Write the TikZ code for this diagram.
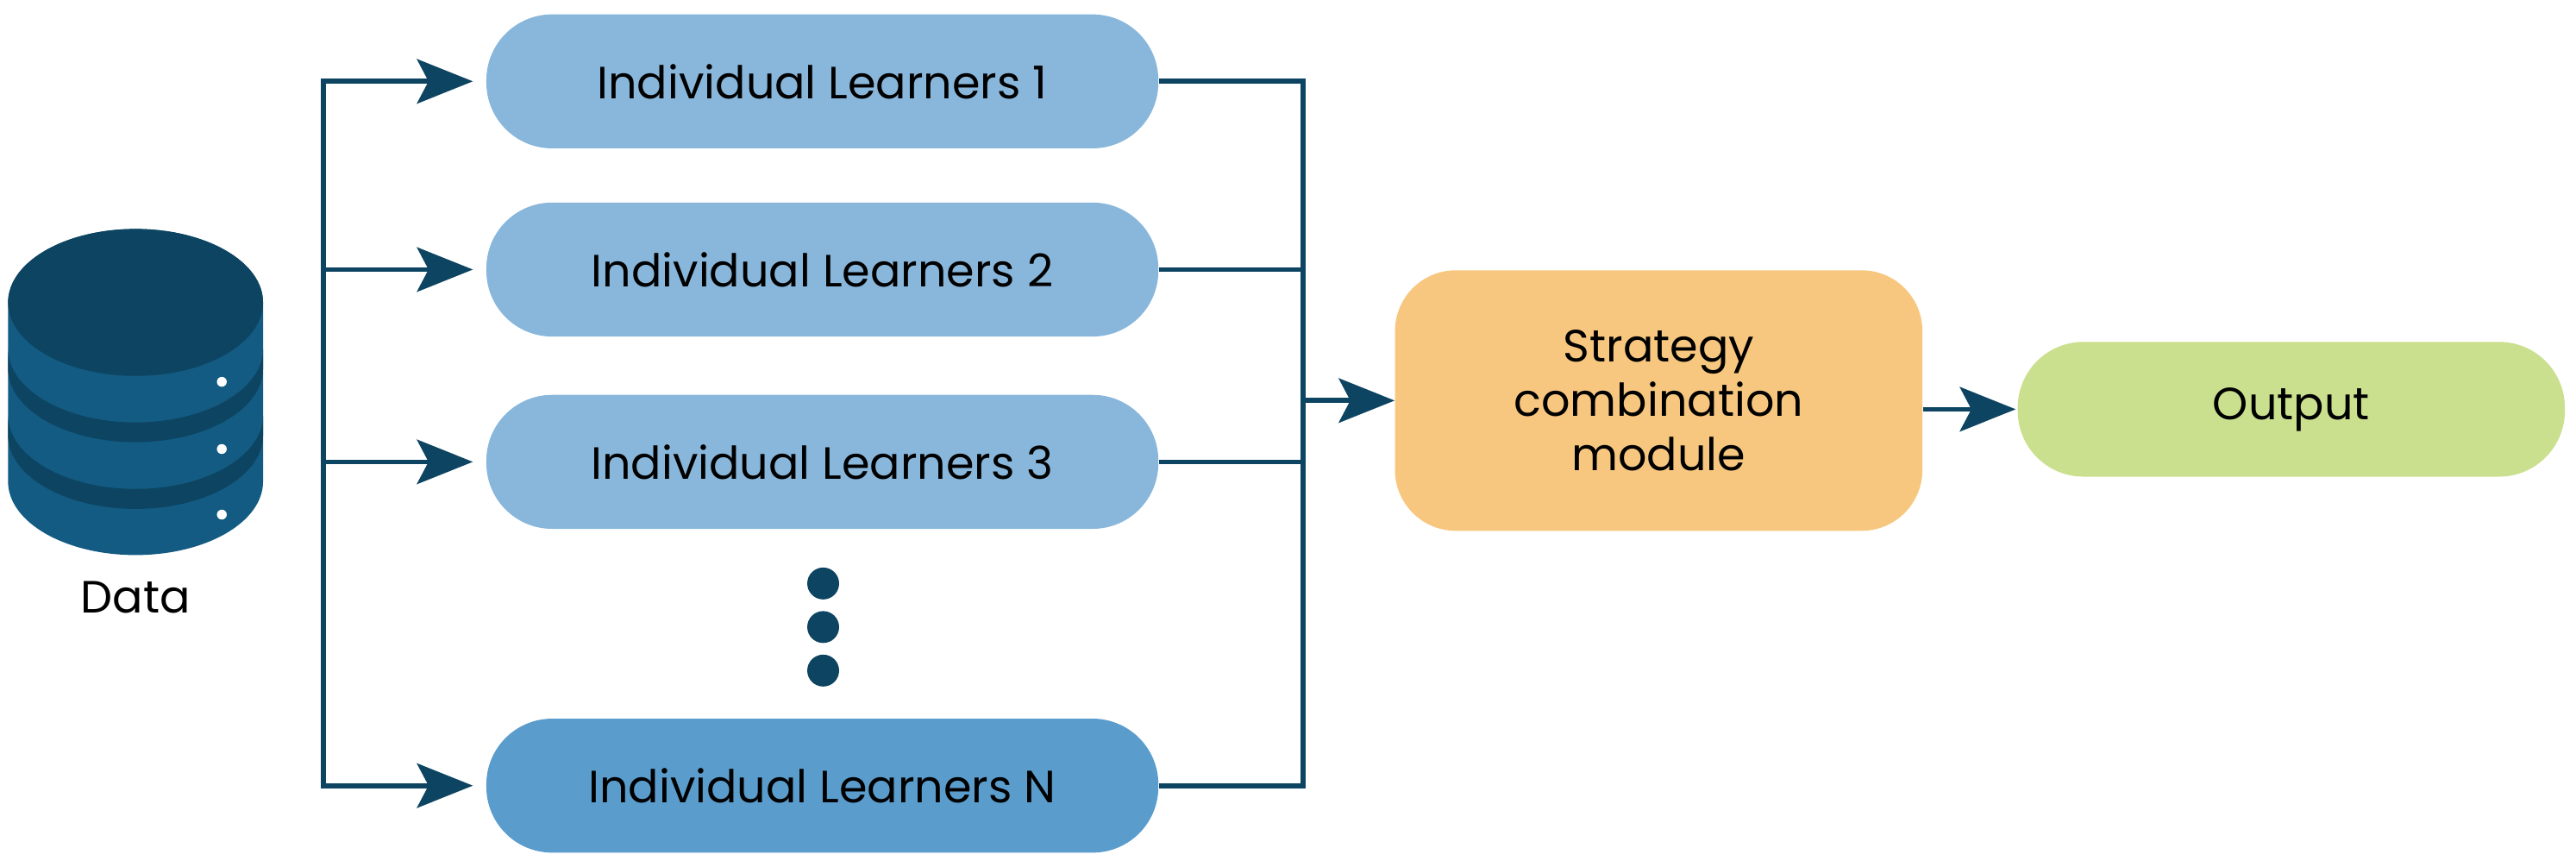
\documentclass[tikz,border=0pt]{standalone}
\usepackage{fontspec}
\setmainfont{Poppins}
\usetikzlibrary{arrows.meta}
\definecolor{dark}{HTML}{0D4461}
\definecolor{cylbody}{HTML}{135B82}
\definecolor{lblue}{HTML}{89B7DB}
\definecolor{mblue}{HTML}{5A9CCC}
\definecolor{orangebox}{HTML}{F8C77F}
\definecolor{greenbox}{HTML}{CAE08E}
\begin{document}
\begin{tikzpicture}[x=1pt,y=1pt,
  txt/.style={font=\fontsize{27.5}{33}\selectfont, text=black},
  learner/.style={txt, fill=lblue, minimum width=409pt, minimum height=81.5pt, rounded corners=40pt, inner sep=0pt},
  dotnode/.style={circle, fill=dark, minimum size=19.4pt, inner sep=0pt},
  wire/.style={draw=dark, line width=3pt},
  arr/.style={wire, -{Stealth[length=34pt,width=27pt,inset=7pt]}}]
\useasboundingbox (0,0) rectangle (1567.8,-527);
% database cylinder
\fill[cylbody] (4.9,-184) -- (4.9,-293) arc[start angle=180, end angle=360, x radius=77.6, y radius=44.7] -- (160.1,-184) arc[start angle=0, end angle=180, x radius=77.6, y radius=44.7] -- cycle;
\fill[dark] (4.9,-212.3) arc[start angle=180, end angle=360, x radius=77.6, y radius=44.7] -- (160.1,-224.3) arc[start angle=0, end angle=-180, x radius=77.6, y radius=44.7] -- cycle;
\fill[dark] (4.9,-252.8) arc[start angle=180, end angle=360, x radius=77.6, y radius=44.7] -- (160.1,-264.9) arc[start angle=0, end angle=-180, x radius=77.6, y radius=44.7] -- cycle;
\fill[dark] (82.5,-184) ellipse[x radius=77.6, y radius=44.7];
\fill[white] (135,-232.3) circle (3);
\fill[white] (135,-273.2) circle (3);
\fill[white] (135,-313.1) circle (3);
\node[txt, anchor=base, inner sep=0pt] (datalbl) at (82.5,-373) {Data};
% learners
\node[learner] (L1) at (500.5,-49.5) {Individual Learners 1};
\node[learner] (L2) at (500.5,-164) {Individual Learners 2};
\node[learner] (L3) at (500.5,-281) {Individual Learners 3};
\node[learner, fill=mblue] (LN) at (500.5,-478) {Individual Learners N};
\node[dotnode] (d1) at (501,-355) {};
\node[dotnode] (d2) at (501,-381.5) {};
\node[dotnode] (d3) at (501,-408) {};
% strategy and output
\node[txt, fill=orangebox, minimum width=321pt, minimum height=158.5pt, rounded corners=37pt, align=center, inner sep=0pt] (S) at (1009.5,-243.7) {Strategy\\combination\\module};
\node[txt, fill=greenbox, minimum width=333pt, minimum height=82pt, rounded corners=40pt, inner sep=0pt] (O) at (1394.5,-249) {Output};
% buses
\coordinate (bl) at (197,0);
\coordinate (br) at (793,0);
\draw[wire, line cap=rect] (bl|-L1.west) -- (bl|-LN.west);
\draw[wire, line cap=rect] (br|-L1.east) -- (br|-LN.east);
\foreach \n in {L1,L2,L3,LN} {
  \draw[arr, shorten >=8pt] (bl|-\n.west) -- (\n.west);
  \draw[wire] (\n.east) -- (br|-\n.east);
}
\draw[arr] (br|-S.west) -- (S.west);
\draw[arr, shorten >=1pt] (S.east|-O.west) -- (O.west);
\end{tikzpicture}
\end{document}
